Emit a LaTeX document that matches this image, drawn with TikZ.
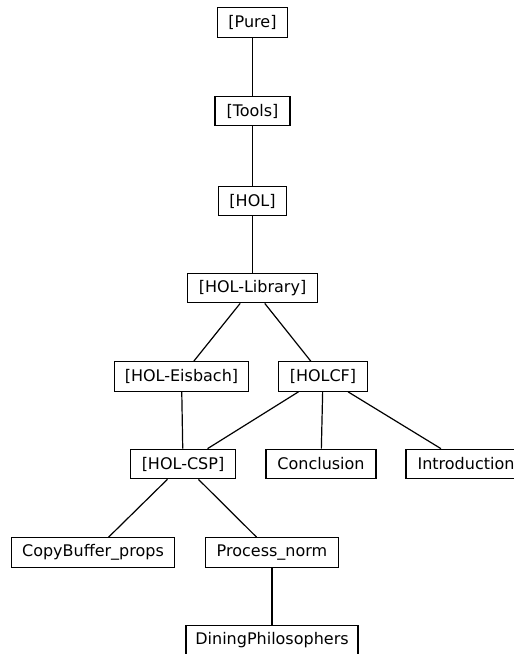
\documentclass[tikz,border=0pt]{standalone}
\usepackage{fontspec}
\setmainfont{DejaVu Sans}
\begin{document}
\begin{tikzpicture}[x=1pt,y=-1pt,
  box/.style={draw=black, line width=1.2pt, fill=white, minimum height=29.5pt,
    inner xsep=3pt, inner ysep=2pt, font=\fontsize{16}{19}\selectfont, anchor=center},
  edge/.style={draw=black, line width=1.2pt}]
\useasboundingbox (0,0) rectangle (514,654);
\clip (0,0) rectangle (514,654);
\fill[white] (0,0) rectangle (514,654);
\node[box, minimum width=70pt]  (pure)  at (252.5,22.5) {[Pure]};
\node[box, minimum width=75pt]  (tools) at (252.5,111) {[Tools]};
\node[box, minimum width=68pt]  (hol)   at (252.5,201) {[HOL]};
\node[box, minimum width=130pt] (lib)   at (252.5,288) {[HOL-Library]};
\node[box, minimum width=134pt] (eis)   at (181.5,376.5) {[HOL-Eisbach]};
\node[box, minimum width=89pt]  (holcf) at (323,376.5) {[HOLCF]};
\node[box, minimum width=105pt] (csp)   at (183,464) {[HOL-CSP]};
\node[box, minimum width=110pt] (concl) at (321,464) {Conclusion};
\node[box, minimum width=120pt] (intro) at (466,464) {Introduction};
\node[box, minimum width=163pt] (copy)  at (93,552.5) {CopyBuffer\_props};
\node[box, minimum width=133pt] (pnorm) at (272,552.5) {Process\_norm};
\node[box, minimum width=172pt] (dining) at (272,640) {DiningPhilosophers};
\draw[edge] (pure) -- (tools);
\draw[edge] (tools) -- (hol);
\draw[edge] (hol) -- (lib);
\draw[edge] (lib) -- (eis);
\draw[edge] (lib) -- (holcf);
\draw[edge] (eis) -- (csp);
\draw[edge] (holcf) -- (csp);
\draw[edge] (holcf) -- (concl);
\draw[edge] (holcf) -- (intro);
\draw[edge] (csp) -- (copy);
\draw[edge] (csp) -- (pnorm);
\draw[edge] (pnorm) -- (dining);
\end{tikzpicture}
\end{document}
